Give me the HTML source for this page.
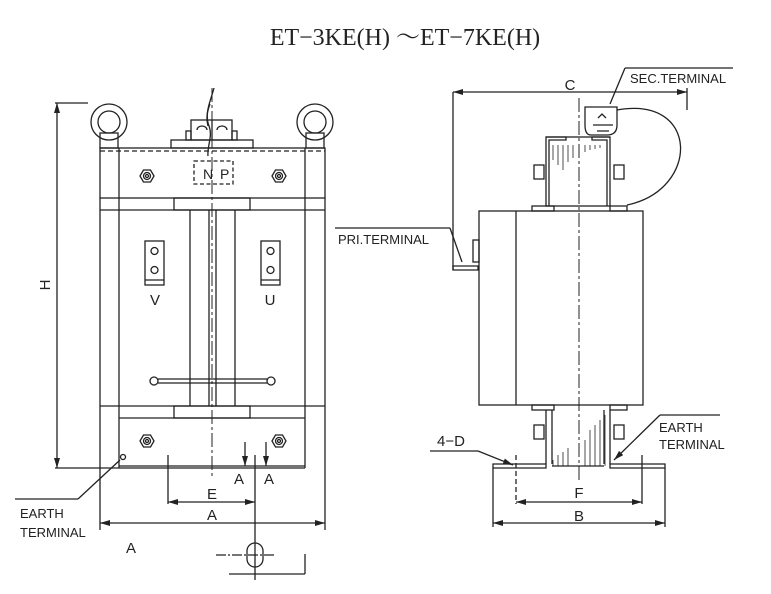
<!DOCTYPE html>
<html><head><meta charset="utf-8"><style>
html,body{margin:0;padding:0;background:#fff;}
svg{display:block;}
text{font-family:"Liberation Sans",sans-serif;fill:#222;}
</style></head><body>
<svg width="771" height="594" viewBox="0 0 771 594" xmlns="http://www.w3.org/2000/svg">
<defs>
<marker id="ar" viewBox="0 0 10 6" refX="10" refY="3" markerWidth="10" markerHeight="6" orient="auto-start-reverse" markerUnits="userSpaceOnUse"><path d="M0,0 L10,3 L0,6 z" fill="#222"/></marker>
</defs>
<text x="405" y="45" text-anchor="middle" style="font-family:'Liberation Serif','Noto Serif CJK SC',serif;font-size:24px;">ET−3KE(H) ～ET−7KE(H)</text>
<g stroke="#222" stroke-width="1.3" fill="none">
<!-- LEFT VIEW -->
<!-- eye bolts -->
<circle cx="109" cy="122" r="18"/><circle cx="109" cy="122" r="11"/>
<rect x="100" y="133" width="18" height="15"/>
<circle cx="315" cy="122" r="18"/><circle cx="315" cy="122" r="11"/>
<rect x="306" y="133" width="18" height="15"/>
<!-- terminal block -->
<rect x="171" y="140" width="82" height="8"/>
<rect x="191" y="120" width="41" height="20"/>
<line x1="212" y1="120" x2="212" y2="140"/>
<path d="M197,130 a5,4 0 0 1 10,0 M217,130 a5,4 0 0 1 10,0"/>
<rect x="186" y="131" width="5" height="9"/><rect x="232" y="131" width="5" height="9"/>
<path d="M214,88 c-3,12 -10,25 -5,38 c4,10 -2,20 -1,30"/>
<path d="M210,104 c-3,8 -4,14 -2,22"/>
<!-- top frame -->
<rect x="100" y="148" width="225" height="50"/>
<line x1="100" y1="151" x2="325" y2="151" stroke-dasharray="5,3"/>
<line x1="119" y1="148" x2="119" y2="198"/><line x1="305" y1="148" x2="305" y2="198"/>
<rect x="194" y="161" width="39" height="23" stroke-dasharray="4,2.5"/>
<!-- nuts -->
<g>
<polygon points="140,176 143.5,170 150.5,170 154,176 150.5,182 143.5,182"/><circle cx="147" cy="176" r="3.5"/><circle cx="147" cy="176" r="1.5"/>
<polygon points="272,176 275.5,170 282.5,170 286,176 282.5,182 275.5,182"/><circle cx="279" cy="176" r="3.5"/><circle cx="279" cy="176" r="1.5"/>
<polygon points="140,441 143.5,435 150.5,435 154,441 150.5,447 143.5,447"/><circle cx="147" cy="441" r="3.5"/><circle cx="147" cy="441" r="1.5"/>
<polygon points="272,441 275.5,435 282.5,435 286,441 282.5,447 275.5,447"/><circle cx="279" cy="441" r="3.5"/><circle cx="279" cy="441" r="1.5"/>
</g>
<!-- body -->
<line x1="100" y1="198" x2="100" y2="530"/><line x1="325" y1="198" x2="325" y2="530"/>
<line x1="100" y1="210" x2="325" y2="210"/>
<line x1="119" y1="198" x2="119" y2="468"/><line x1="305" y1="198" x2="305" y2="468"/>
<rect x="174" y="198" width="76" height="12"/>
<line x1="190" y1="210" x2="190" y2="406"/><line x1="209" y1="210" x2="209" y2="406"/>
<line x1="216" y1="210" x2="216" y2="406"/><line x1="235" y1="210" x2="235" y2="406"/>
<line x1="100" y1="406" x2="325" y2="406"/>
<rect x="174" y="406" width="76" height="12"/>
<line x1="119" y1="418" x2="305" y2="418"/>
<line x1="119" y1="466" x2="305" y2="466"/><line x1="119" y1="468" x2="305" y2="468"/>
<!-- brackets -->
<rect x="145" y="241" width="19" height="44"/><line x1="145" y1="280" x2="164" y2="280"/>
<circle cx="154.5" cy="251" r="3.5"/><circle cx="154.5" cy="270" r="3.5"/>
<rect x="261" y="241" width="19" height="44"/><line x1="261" y1="280" x2="280" y2="280"/>
<circle cx="270.5" cy="251" r="3.5"/><circle cx="270.5" cy="270" r="3.5"/>
<!-- rod -->
<line x1="158" y1="379" x2="267" y2="379"/><line x1="158" y1="383" x2="267" y2="383"/>
<circle cx="154" cy="381" r="4" fill="#fff"/><circle cx="271" cy="381" r="4" fill="#fff"/>
<!-- center line -->
<line x1="212" y1="88" x2="212" y2="478" stroke-dasharray="14,3,3,3" stroke-width="1"/>
<!-- H dim -->
<line x1="55" y1="103" x2="88" y2="103"/><line x1="55" y1="468" x2="119" y2="468"/>
<line x1="57" y1="103" x2="57" y2="468" marker-start="url(#ar)" marker-end="url(#ar)"/>
<!-- earth terminal left -->
<circle cx="123" cy="457" r="2.5"/>
<line x1="120" y1="460" x2="78" y2="499"/><line x1="78" y1="499" x2="15" y2="499"/>
<!-- A arrows -->
<line x1="245" y1="442" x2="245" y2="466" marker-end="url(#ar)"/>
<line x1="266" y1="442" x2="266" y2="466" marker-end="url(#ar)"/>
<line x1="255" y1="455" x2="255" y2="580"/>
<line x1="168" y1="455" x2="168" y2="504"/>
<line x1="168" y1="502" x2="255" y2="502" marker-start="url(#ar)" marker-end="url(#ar)"/>
<line x1="100" y1="523" x2="325" y2="523" marker-start="url(#ar)" marker-end="url(#ar)"/>
<!-- oval -->
<rect x="247" y="543" width="16" height="24" rx="8"/>
<line x1="216" y1="555" x2="275" y2="555" stroke-dasharray="10,2,2,2"/>
<line x1="229" y1="574" x2="305" y2="574"/><line x1="305" y1="554" x2="305" y2="574"/>

<!-- RIGHT VIEW -->
<line x1="453" y1="92" x2="687" y2="92" marker-start="url(#ar)" marker-end="url(#ar)"/>
<line x1="453" y1="92" x2="453" y2="270"/><line x1="687" y1="88" x2="687" y2="110"/>
<line x1="579" y1="98" x2="579" y2="480" stroke-dasharray="14,3,3,3" stroke-width="1"/>
<!-- sec terminal -->
<path d="M585,107 L617,107 L617,125 Q617,135 607,135 L591,135 Q585,135 585,125 Z"/>
<path d="M598,118 l4,-4 l4,4 M593,125 h20 M597,131 h12"/>
<line x1="610" y1="104" x2="625" y2="68"/><line x1="625" y1="68" x2="733" y2="68"/>
<path d="M617,110 C700,95 700,190 627,205"/>
<!-- top core -->
<rect x="546" y="137" width="64" height="69"/>
<path d="M546,137 h20 v3 h-17 v66 M610,137 h-18 v3 h15 v66"/>
<rect x="532" y="206" width="22" height="5"/><rect x="610" y="206" width="17" height="5"/>
<rect x="534" y="165" width="10" height="14"/><rect x="614" y="165" width="10" height="14"/>
<g stroke-width="0.8">
<line x1="553" y1="145" x2="553" y2="160"/><line x1="558" y1="145" x2="558" y2="165"/><line x1="563" y1="145" x2="563" y2="170"/><line x1="568" y1="145" x2="568" y2="162"/><line x1="573" y1="145" x2="573" y2="158"/><line x1="585" y1="145" x2="585" y2="152"/><line x1="590" y1="145" x2="590" y2="150"/><line x1="595" y1="145" x2="595" y2="149"/><line x1="600" y1="145" x2="600" y2="148"/>
<line x1="553" y1="460" x2="553" y2="466"/><line x1="558" y1="455" x2="558" y2="466"/><line x1="563" y1="452" x2="563" y2="466"/><line x1="568" y1="448" x2="568" y2="466"/><line x1="585" y1="440" x2="585" y2="466"/><line x1="590" y1="430" x2="590" y2="466"/><line x1="595" y1="425" x2="595" y2="466"/><line x1="600" y1="420" x2="600" y2="466"/><line x1="605" y1="415" x2="605" y2="466"/>
</g>
<!-- main box -->
<rect x="479" y="211" width="164" height="194"/>
<line x1="516" y1="211" x2="516" y2="405"/>
<!-- pri terminal -->
<rect x="473" y="240" width="6" height="22"/>
<path d="M453,266 h25 v4 h-25 z"/>
<line x1="335" y1="228" x2="450" y2="228"/><line x1="450" y1="228" x2="462" y2="262"/>
<!-- bottom core -->
<rect x="532" y="405" width="22" height="5"/><rect x="610" y="405" width="17" height="5"/>
<path d="M546,410 v54 M552,410 v54 M610,410 v54 M604,410 v54"/>
<rect x="534" y="425" width="10" height="14"/><rect x="614" y="425" width="10" height="14"/>
<!-- base -->
<path d="M493,464 h53 v4 h-53 z M610,464 h55 v4 h-55 z"/>
<line x1="552" y1="466" x2="604" y2="466"/>
<line x1="493" y1="468" x2="493" y2="527"/><line x1="665" y1="468" x2="665" y2="527"/>
<line x1="516" y1="455" x2="516" y2="504" stroke-dasharray="5,3"/><line x1="642" y1="455" x2="642" y2="504"/>
<line x1="516" y1="502" x2="642" y2="502" marker-start="url(#ar)" marker-end="url(#ar)"/>
<line x1="493" y1="523" x2="665" y2="523" marker-start="url(#ar)" marker-end="url(#ar)"/>
<!-- 4-D leader -->
<line x1="430" y1="451" x2="478" y2="451"/><line x1="478" y1="451" x2="513" y2="465" marker-end="url(#ar)"/>
<!-- earth right leader -->
<line x1="720" y1="415" x2="660" y2="415"/><line x1="660" y1="415" x2="614" y2="460" marker-end="url(#ar)"/>
</g>
<g font-size="15">
<text x="155" y="305" text-anchor="middle">V</text>
<text x="270" y="305" text-anchor="middle">U</text>
<text x="203" y="179" font-size="14">N</text><text x="220" y="179" font-size="14">P</text>
<text x="50" y="285" transform="rotate(-90 50 285)" text-anchor="middle">H</text>
<text x="239" y="484" text-anchor="middle">A</text><text x="269" y="484" text-anchor="middle">A</text>
<text x="212" y="499" text-anchor="middle">E</text>
<text x="212" y="520" text-anchor="middle">A</text>
<text x="131" y="553" text-anchor="middle">A</text>
<text x="20" y="518" font-size="13">EARTH</text>
<text x="20" y="537" font-size="13">TERMINAL</text>
<text x="570" y="90" text-anchor="middle">C</text>
<text x="630" y="83" font-size="13">SEC.TERMINAL</text>
<text x="338" y="244" font-size="13">PRI.TERMINAL</text>
<text x="437" y="446">4−D</text>
<text x="659" y="432" font-size="13">EARTH</text>
<text x="659" y="449" font-size="13">TERMINAL</text>
<text x="579" y="498" text-anchor="middle">F</text>
<text x="579" y="521" text-anchor="middle">B</text>
</g>
</svg>
</body></html>
